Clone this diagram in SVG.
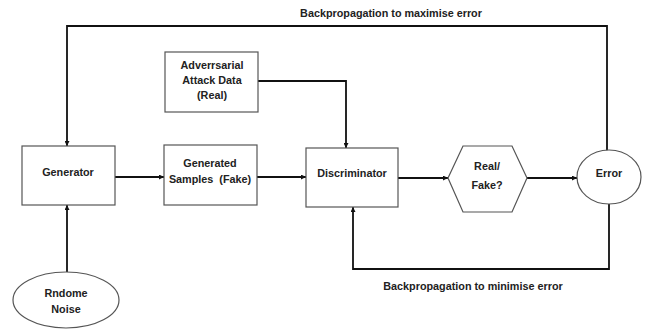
<svg xmlns="http://www.w3.org/2000/svg" width="647" height="329" viewBox="0 0 647 329">
<defs>
<marker id="ah" viewBox="0 0 10 10" refX="10" refY="5" markerWidth="5" markerHeight="5" orient="auto-start-reverse" markerUnits="userSpaceOnUse">
<path d="M0,0 L10,5 L0,10 z" fill="#111"/>
</marker>
<style>
.box{fill:#fff;stroke:#555;stroke-width:1.2}
.t{font-family:"Liberation Sans",Arial,sans-serif;font-weight:bold;font-size:10.8px;fill:#222;text-anchor:middle;dominant-baseline:central;white-space:pre}
.c{fill:none;stroke:#111;stroke-width:1.8}
.a{marker-end:url(#ah)}
</style>
</defs>
<rect width="647" height="329" fill="#fff"/>
<g id="connectors">
<path class="c a" d="M607,151 L607,26 L67,26 L67,146"/>
<path class="c a" d="M258,81 L346,81 L346,148"/>
<path class="c a" d="M115,177 L164,177"/>
<path class="c a" d="M257,177 L306,177"/>
<path class="c a" d="M398,178 L448,178"/>
<path class="c a" d="M527,178 L577,178"/>
<path class="c a" d="M67,272 L67,205"/>
<path class="c a" d="M609,204 L609,269 L353,269 L353,207"/>
</g>
<g id="label-max"><text class="t" x="391" y="13">Backpropagation to maximise error</text></g>
<g id="label-min"><text class="t" x="473" y="286">Backpropagation to minimise error</text></g>
<g id="generator">
<rect class="box" x="22" y="146" width="93" height="59"/>
<text class="t" x="68" y="172">Generator</text>
</g>
<g id="generated-samples">
<rect class="box" x="164" y="145" width="93" height="60"/>
<text class="t" x="210" y="163">Generated</text>
<text class="t" x="210" y="179" xml:space="preserve">Samples  (Fake)</text>
</g>
<g id="adversarial">
<rect class="box" x="165" y="52" width="93" height="60"/>
<text class="t" x="212" y="65">Adverrsarial</text>
<text class="t" x="212" y="80">Attack Data</text>
<text class="t" x="212" y="95">(Real)</text>
</g>
<g id="discriminator">
<rect class="box" x="306" y="148" width="92" height="59"/>
<text class="t" x="352" y="173">Discriminator</text>
</g>
<g id="real-fake">
<polygon class="box" points="463,146 512,146 527,178 512,212 463,212 448,178"/>
<text class="t" x="487" y="166">Real/</text>
<text class="t" x="487" y="185">Fake?</text>
</g>
<g id="error">
<ellipse class="box" cx="609" cy="177" rx="32" ry="27"/>
<text class="t" x="609" y="173">Error</text>
</g>
<g id="noise">
<ellipse class="box" cx="66" cy="300" rx="53" ry="28"/>
<text class="t" x="66" y="293">Rndome</text>
<text class="t" x="66" y="309">Noise</text>
</g>
</svg>
